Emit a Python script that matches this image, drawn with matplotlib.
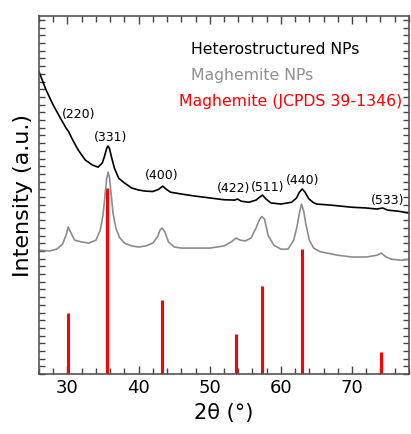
import matplotlib
matplotlib.use("Agg")
import matplotlib.pyplot as plt
from matplotlib.ticker import MultipleLocator, NullFormatter

# Heterostructured NPs (black trace)
het_x = [26.0, 27.0, 28.0, 29.0, 29.8, 30.2, 30.6, 31.5, 32.5, 33.5, 34.3, 34.9,
         35.2, 35.5, 35.7, 35.9, 36.2, 36.6, 37.2, 38.0, 39.0, 40.0, 41.0, 42.0,
         42.8, 43.4, 43.9, 44.5, 46.0, 48.0, 50.0, 52.0, 53.5, 53.9, 54.4, 55.5,
         56.5, 57.0, 57.4, 57.9, 58.6, 60.0, 61.5, 62.2, 62.6, 63.0, 63.4, 63.9,
         64.5, 65.0, 67.0, 70.0, 72.0, 73.5, 74.3, 75.0, 76.5, 78.0]
het_y = [84.4, 79.3, 75.1, 71.5, 68.7, 67.6, 65.9, 62.6, 59.8, 58.4, 57.8, 59.0,
         60.8, 63.0, 63.7, 63.0, 60.5, 57.5, 54.7, 53.4, 52.0, 51.4, 51.1, 51.0,
         51.6, 52.5, 51.6, 50.8, 50.3, 49.7, 49.2, 48.7, 48.6, 48.9, 48.3, 48.0,
         48.6, 49.4, 50.0, 48.9, 47.8, 47.5, 48.0, 49.2, 50.8, 51.7, 50.8, 49.0,
         48.0, 47.5, 47.2, 46.6, 46.4, 46.1, 46.4, 45.8, 45.5, 45.0]

# Maghemite NPs (grey trace)
mag_x = [26.0, 27.5, 28.5, 29.3, 29.8, 30.1, 30.5, 31.0, 32.0, 33.0, 34.0, 34.6,
         35.0, 35.3, 35.5, 35.7, 35.9, 36.1, 36.4, 36.8, 37.3, 38.0, 39.0, 40.0,
         41.0, 42.0, 42.7, 43.0, 43.3, 43.7, 44.2, 45.0, 46.0, 48.0, 50.0, 52.0,
         53.0, 53.7, 54.3, 55.0, 55.8, 56.5, 57.0, 57.3, 57.7, 58.2, 59.0, 60.0,
         61.0, 61.8, 62.3, 62.6, 62.9, 63.2, 63.5, 64.0, 64.6, 65.5, 66.5, 68.0,
         70.0, 72.0, 73.5, 74.1, 74.8, 75.5, 77.0, 78.0]
mag_y = [34.6, 34.4, 34.9, 36.3, 38.8, 41.1, 39.4, 37.4, 36.9, 36.6, 37.4, 40.2,
         44.5, 50.5, 54.5, 56.4, 55.0, 51.0, 45.0, 40.8, 38.2, 36.6, 35.8, 35.5,
         35.8, 36.6, 38.5, 40.2, 40.8, 39.7, 36.9, 35.5, 35.2, 35.2, 35.2, 35.8,
         36.9, 38.0, 37.4, 37.2, 38.0, 40.8, 43.2, 44.0, 43.3, 38.8, 36.0, 34.9,
         34.9, 37.4, 41.5, 45.0, 47.5, 45.5, 42.0, 37.4, 35.2, 34.2, 33.8, 33.2,
         32.7, 32.7, 33.2, 33.8, 32.7, 32.1, 31.8, 32.1]

# JCPDS 39-1346 reference lines
ref_pos = [30.1, 35.5, 43.3, 53.7, 57.3, 62.9, 74.1]
ref_int = [17.0, 52.0, 20.7, 11.2, 24.6, 35.0, 6.1]

# peak labels
hkl_text = ["(220)", "(331)", "(400)", "(422)", "(511)", "(440)", "(533)"]
hkl_x = [31.5, 36.1, 43.3, 53.3, 58.1, 63.0, 75.0]
hkl_y = [72.6, 66.0, 55.5, 51.8, 52.2, 54.0, 48.5]


def main():
    fig = plt.figure(figsize=(4.11, 4.34), dpi=100)
    ax = fig.add_axes([0.095, 0.138, 0.900, 0.825])

    ax.vlines(ref_pos, 0, ref_int, color="#ff0000", lw=2.2)
    ax.plot(mag_x, mag_y, color="#8c8c8c", lw=1.2)
    ax.plot(het_x, het_y, color="black", lw=1.2)

    for t, x, y in zip(hkl_text, hkl_x, hkl_y):
        ax.text(x, y, t, ha="center", va="center", fontsize=9)

    ax.text(47.4, 90.6, "Heterostructured NPs", color="black", fontsize=11.3, va="center")
    ax.text(47.4, 83.5, "Maghemite NPs", color="#909090", fontsize=11.3, va="center")
    ax.text(45.7, 76.0, "Maghemite (JCPDS 39-1346)", color="#ff0000", fontsize=11.3, va="center")

    ax.set_xlim(26, 78)
    ax.set_ylim(0, 100)
    ax.xaxis.set_major_locator(MultipleLocator(10))
    ax.xaxis.set_minor_locator(MultipleLocator(2))
    ax.yaxis.set_major_locator(MultipleLocator(100 / 46.5))
    ax.yaxis.set_major_formatter(NullFormatter())
    ax.tick_params(which="both", direction="in", top=True, right=True,
                   color="#444444", width=1.0)
    ax.tick_params(axis="x", which="major", length=6, labelsize=13)
    ax.tick_params(axis="x", which="minor", length=4)
    ax.tick_params(axis="y", which="major", length=4.5)
    for s in ax.spines.values():
        s.set_color("#555555")
        s.set_linewidth(1.2)

    ax.set_xlabel("2θ (°)", fontsize=15, labelpad=4)
    ax.set_ylabel("Intensity (a.u.)", fontsize=16, labelpad=1)

    fig.savefig("out.png", dpi=100)


if __name__ == "__main__":
    main()
